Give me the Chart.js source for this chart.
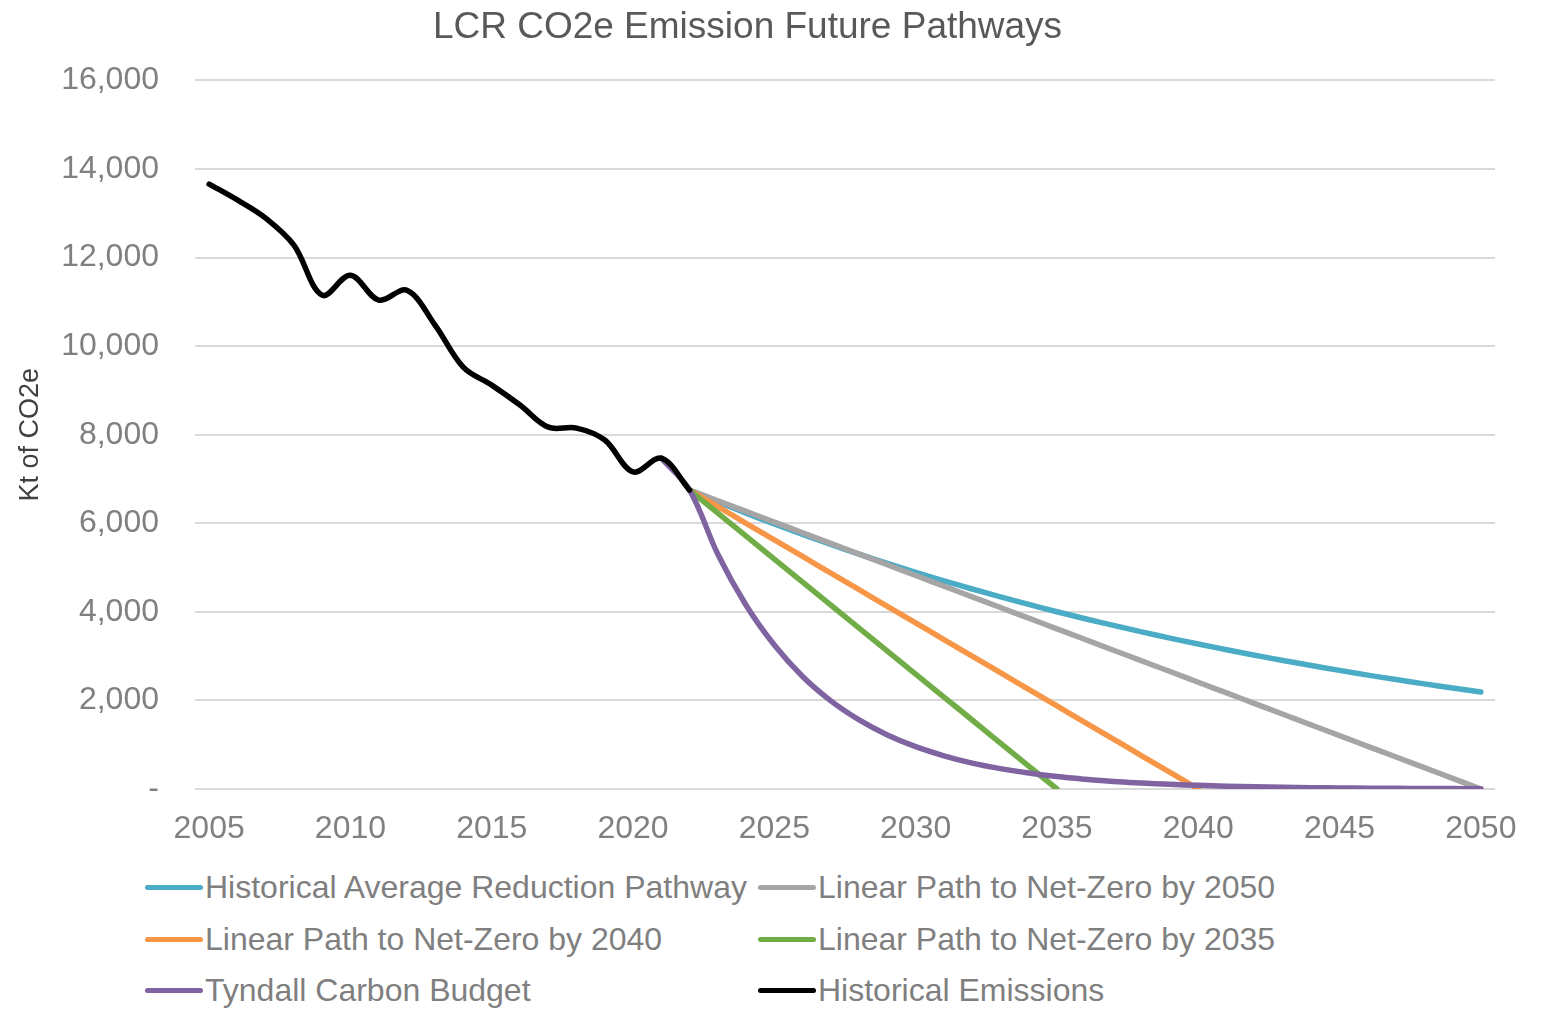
<!DOCTYPE html>
<html>
<head>
<meta charset="utf-8">
<script src="https://cdn.jsdelivr.net/npm/chart.js@4.4.1/dist/chart.umd.min.js"></script>
<style>
    body { margin: 0; background: #fff; font-family: "Liberation Sans", Arial, sans-serif; }
    #wrap { position: relative; width: 1544px; height: 1009px; }
    #chartBox { position: absolute; left: 0; top: 0; width: 1544px; height: 860px; }
    #legend {
        position: absolute; left: 145px; top: 862px;
        display: grid; grid-template-columns: 613px 640px; grid-auto-rows: 51.5px;
    }
    .leg-item { display: flex; align-items: center; font-size: 32px; color: #7f7f7f; white-space: nowrap; }
    .leg-line { display: inline-block; width: 58px; height: 5px; border-radius: 3px; margin-right: 2px; }
</style>
</head>
<body>
<div id="wrap">
    <div id="chartBox"><canvas id="emChart"></canvas></div>
    <div id="legend"></div>
</div>
<script>
// years on the x axis (yearly data, label every 5 years)
const years = [2005, 2006, 2007, 2008, 2009, 2010, 2011, 2012, 2013, 2014, 2015, 2016, 2017, 2018, 2019,
    2020, 2021, 2022, 2023, 2024, 2025, 2026, 2027, 2028, 2029, 2030, 2031, 2032, 2033, 2034, 2035,
    2036, 2037, 2038, 2039, 2040, 2041, 2042, 2043, 2044, 2045, 2046, 2047, 2048, 2049, 2050];

const yTicks = [0, 2000, 4000, 6000, 8000, 10000, 12000, 14000, 16000];

// Kt CO2e
const historical = [13660, 13300, 12890, 12280, 11150, 11600, 11040, 11260, 10470, 9520, 9120, 8670, 8170, 8150, 7880,
    7160, 7470, 6750];

const histAverage = [null, null, null, null, null, null, null, null, null, null, null, null, null, null, null,
    null, null, 6750, 6484, 6229, 5983, 5748, 5521, 5304, 5095, 4894, 4701, 4516, 4338, 4167, 4003,
    3845, 3694, 3548, 3408, 3274, 3145, 3021, 2902, 2788, 2678, 2572, 2471, 2374, 2280, 2190];

const linear2050 = [null, null, null, null, null, null, null, null, null, null, null, null, null, null, null,
    null, null, 6750, 6509, 6268, 6027, 5786, 5545, 5304, 5063, 4821, 4580, 4339, 4098, 3857, 3616,
    3375, 3134, 2893, 2652, 2411, 2170, 1929, 1688, 1446, 1205, 964, 723, 482, 241, 0];

const linear2040 = [null, null, null, null, null, null, null, null, null, null, null, null, null, null, null,
    null, null, 6750, 6375, 6000, 5625, 5250, 4875, 4500, 4125, 3750, 3375, 3000, 2625, 2250, 1875,
    1500, 1125, 750, 375, 0];

const linear2035 = [null, null, null, null, null, null, null, null, null, null, null, null, null, null, null,
    null, null, 6750, 6231, 5712, 5192, 4673, 4154, 3635, 3115, 2596, 2077, 1558, 1038, 519, 0];

const tyndall = [null, null, null, null, null, null, null, null, null, null, null, null, null, null, null,
    null, 7470, 6750, 5300, 4150, 3250, 2540, 1990, 1560, 1220, 955, 750, 585, 460, 360, 280,
    220, 170, 135, 105, 82, 64, 50, 39, 31, 24, 19, 15, 12, 9, 7];

const seriesList = [
    { label: 'Historical Average Reduction Pathway', data: histAverage, color: '#4BACC6', order: 6 },
    { label: 'Linear Path to Net-Zero by 2050', data: linear2050, color: '#A5A5A5', order: 5 },
    { label: 'Linear Path to Net-Zero by 2040', data: linear2040, color: '#F79646', order: 4 },
    { label: 'Linear Path to Net-Zero by 2035', data: linear2035, color: '#70AD47', order: 3 },
    { label: 'Tyndall Carbon Budget', data: tyndall, color: '#8064A2', order: 2 },
    { label: 'Historical Emissions', data: historical, color: '#000000', order: 1 }
];

const FONT = '"Liberation Sans", Arial, sans-serif';

new Chart(document.getElementById('emChart'), {
    type: 'line',
    data: {
        labels: years,
        datasets: seriesList.map(s => ({
            label: s.label,
            data: s.data,
            borderColor: s.color,
            backgroundColor: s.color,
            borderWidth: 5.5,
            borderCapStyle: 'round',
            pointRadius: 0,
            tension: 0.35,
            order: s.order
        }))
    },
    options: {
        responsive: true, maintainAspectRatio: false, animation: false,
        layout: { padding: { left: 0, right: 49, top: 0, bottom: 0 } },
        plugins: {
            legend: { display: false },
            tooltip: { enabled: false },
            title: {
                display: true,
                text: 'LCR CO2e Emission Future Pathways',
                color: '#595959',
                font: { family: FONT, size: 37, weight: 'normal' },
                padding: { top: 6, bottom: 30 }
            }
        },
        scales: {
            x: {
                offset: true,
                grid: { display: false, drawTicks: false },
                border: { display: false },
                ticks: {
                    autoSkip: false, maxRotation: 0, padding: 21,
                    color: '#808080',
                    font: { family: FONT, size: 32 },
                    callback: function (val, i) { return years[i] % 5 === 0 ? String(years[i]) : ''; }
                },
                afterFit: function (scale) { scale.height = 71; }
            },
            y: {
                min: 0, max: 16000,
                afterBuildTicks: function (scale) { scale.ticks = yTicks.map(v => ({ value: v })); },
                grid: { color: '#D9D9D9', lineWidth: 2, drawTicks: false },
                border: { display: false },
                ticks: {
                    padding: 36, color: '#808080',
                    font: { family: FONT, size: 32 },
                    callback: v => v === 0 ? '-' : v.toLocaleString('en-US')
                },
                title: {
                    display: true, text: 'Kt of CO2e', color: '#404040',
                    font: { family: FONT, size: 27 },
                    padding: { top: 14, bottom: 0 }
                },
                afterFit: function (scale) { scale.width = 195; }
            }
        }
    }
});

// legend laid out in two fixed columns like the original
const legendEl = document.getElementById('legend');
seriesList.forEach(s => {
    legendEl.innerHTML += `<div class="leg-item"><span class="leg-line" style="background:${s.color}"></span>${s.label}</div>`;
});
</script>
</body>
</html>
